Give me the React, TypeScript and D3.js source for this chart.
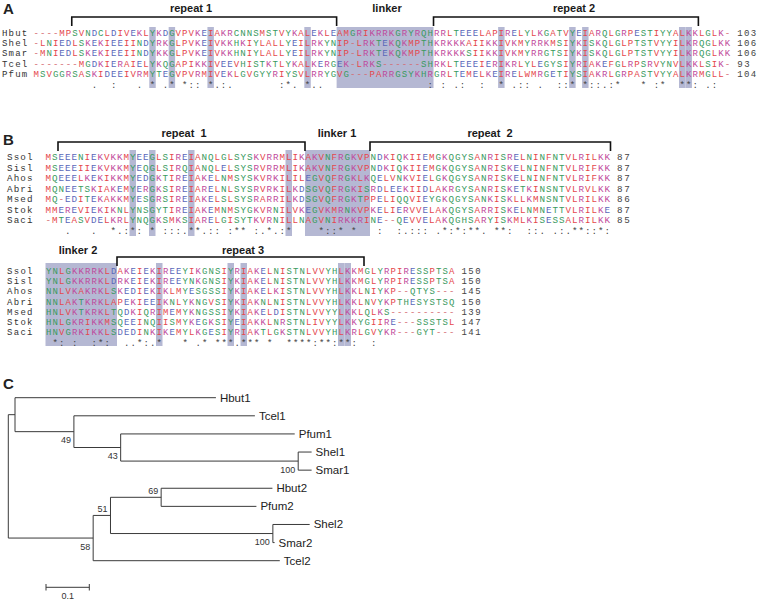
import React from 'react';
import * as d3 from 'd3';

// ---------- Panel A data ----------
const A_NAMES = ['Hbut', 'Shel', 'Smar', 'Tcel', 'Pfum'];
const A_SEQS = [
  '----MPSVNDCLDIVEKLYKDGVPVKEIAKRCNNSMSTVYKALEKLEAMGRIKRRKGRYRQHRRLTEEELAPIRELYLKGATVYEIARQLGRPESTIYYALKKLGLK-',
  '-LNIEDLSKEKIEEIINDYRKGLPVKEIVKKHKIYLALLYEILRKYNIP-LRKTEKQKMPTHKRKKKAIIKKIVKMYRRKMSIYKISKQLGLPTSTVYYILKRQGLKK',
  '-MNIEDLSKEKIEEIINDYKKGLPVKEIVKKHNIYLALLYEILRKYNIP-LRKTEKQKMPTHKRKKKSIIKKIVKMYRRGTSIYKISKQLGLPTSTVYYILKRQGLKK',
  '-------MGDKIERAIELYKQGAPIKKIVEEVHISTKTLYKALKERGEK-LRKS------SHRKLTEEEIERIKRLYLEGYSIYRIAKEFGLRPSRVYNVLKKLSIK-',
  'MSVGGRSASKIDEEIVRMYTEGVPVRMIVEKLGVGYYRIYSVLRRYGVG---PARRGSYKHRGRLTEMELKEIRELWMRGETIYSIAKRLGRPASTVYYALKRMGLL-',
];
const A_ENDS = ['103', '106', '106', '93', '104'];
const A_SHADE_COLS = [19, 22, 28, 43, 73, 84, 86, 101, 102];
const A_SHADE_RANGES: [number, number][] = [[48, 62]];
const A_BRACKETS: [number, number][] = [[7, 47], [63, 103]];
const A_TITLES = ['repeat 1', 'linker', 'repeat 2'];

// ---------- Panel B data ----------
const B_NAMES = ['Ssol', 'Sisl', 'Ahos', 'Abri', 'Msed', 'Stok', 'Saci'];
const B1_SEQS = [
  'MSEEENIEKVKKMYEEGLSIREIANQLGLSYSKVRRMLIKAKVNFRGKVPNDKIQKIIEMGKQGYSANRISRELNINFNTVLRILKK',
  'MSEEEIIEKVKKMYEQGLSIRQIANQLELSYSRVRRMLIKAKVNFRGKVPNDKIQKIIEMGKQGYSANRISKELNINFNTVLRIFKK',
  'MQEEELKEKIKKMYEDGKTIREIAKELNMSYSKVRKILILEGVQFRGKLKQELVNKVIELGKQGYSANRISKELNINFNTVLRIFKK',
  'MQNEETSKIAKEMYERGKSIREIARELNLSYSRVRKILKDSGVQFRGKISRDLEEKIIDLAKRGYSANRISKETKINSNTVLRVLKK',
  'MQ-EDITEKAKKMYESGRSIREIAKELSLSYSRARRILKDSGVQFRGKTPPELIQQVIEYGKQGYSANKISKLLKMNSNTVLRILKK',
  'MMEREVIEKIKNLYNSGYTIREIAKEMNMSYGKVRNILVKEGVKMRNKVPKELIERVVELAKQGYSARRISKELNMNETTVLRILKE',
  '-MTEASVDELKRLYNQGKSMKSIARELGISYTKVRNILLNAGVNIRKKRINE--QEVVELAKQGHSARYISKMLKISESSALRILKK',
];
const B1_ENDS = ['87', '87', '87', '87', '86', '87', '85'];
const B1_SHADE_COLS = [14, 17, 23, 38];
const B1_SHADE_RANGES: [number, number][] = [[41, 50]];
const B1_BRACKETS: [number, number][] = [[3, 40], [51, 87]];
const B1_TITLES = ['repeat  1', 'linker 1', 'repeat  2'];

const B2_SEQS = [
  'YNLGKKRRKLDAKEIEKIREEYIKGNSIYRIAKELNISTNLVVYHLKKMGLYRPIRESSPTSA',
  'YNLGKKRRKLDRKEIEKIREEYNKGNSIYKIAKELNISTNLVVYHLKKMGLYRPIRESSPTSA',
  'NNLVKAKRKLSKEDIEKIKLMYESGSSIYKIAKELKISTNLVVYHLKKLNIYKP--QTYS---',
  'NNLAKTKRKLAPEKIEEIKNLYKNGVSIYKIAKNLNISTNLVVYHLKKLNVYKPTHESYSTSQ',
  'HNLVKTKRKLTQDKIQRIMEMYKNGSSIYKIAKELDISTNLVVYYLKKLQLKS----------',
  'HNLGKRIKKMSQEEINQIISMYKEGKSIYEIAKKLNRSTNLIVYYLKKYGIIRE---SSSTSL',
  'HNVGRKIKKLSDEDINKIKEMYLKGESIYRIAKTLGKSTNLVVYHLKRLGVYKR---GYT---',
];
const B2_ENDS = ['150', '150', '145', '150', '139', '147', '141'];
const B2_SHADE_COLS = [18, 29, 31, 46, 47];
const B2_SHADE_RANGES: [number, number][] = [[1, 11]];
const B2_BRACKETS: [number, number][] = [[12, 49]];
const B2_TITLES = ['linker 2', 'repeat 3'];

// ---------- Panel C data (tree, Newick with bootstrap values) ----------
const TREE_NEWICK =
  '((Hbut1:0.464,(Tcel1:0.418,(Pfum1:0.402,(Shel1:0.031,Smar1:0.031)100:0.410)43:0.108)49:0.136):0.0155,(((Hbut2:0.257,Pfum2:0.220)69:0.117,(Shel2:0.085,Smar2:0.004)100:0.375)51:0.040,Tcel2:0.431)58:0.196);';
const SCALE_BAR = 0.1;

// ---------- styles ----------
const MONO = "'Liberation Mono', 'DejaVu Sans Mono', monospace";
const SANS = "'Liberation Sans', Arial, Helvetica, sans-serif";
const RED = '#e5474d';
const BLUE = '#5a68ba';
const MAGENTA = '#bf4b9c';
const GREEN = '#3a9a60';
const GAP = '#d56a70';
const SHADE = '#b5b8d3';

function residueColor(c: string) {
  if ('AVFPMILW'.includes(c)) return RED;
  if ('DE'.includes(c)) return BLUE;
  if ('RK'.includes(c)) return MAGENTA;
  if ('STYHCNGQ'.includes(c)) return GREEN;
  return GAP;
}

const STRONG = ['STA', 'NEQK', 'NHQK', 'NDEQ', 'QHRK', 'MILV', 'MILF', 'HY', 'FYW'];
const WEAK = ['CSA', 'ATV', 'SAG', 'STNK', 'STPA', 'SGND', 'SNDEQK', 'NDEQHK', 'NEQHRK', 'FVLIM', 'HFY'];
function conservation(seqs: string[]) {
  let out = '';
  for (let i = 0; i < seqs[0].length; i++) {
    const col = seqs.map((s) => s[i]);
    if (col.some((c) => c === '-')) out += ' ';
    else if (col.every((c) => c === col[0])) out += '*';
    else if (STRONG.some((g) => col.every((c) => g.includes(c)))) out += ':';
    else if (WEAK.some((g) => col.every((c) => g.includes(c)))) out += '.';
    else out += ' ';
  }
  return out;
}

type BlockCfg = {
  names: string[];
  seqs: string[];
  ends: string[];
  shadeCols: number[];
  shadeRanges: [number, number][];
  brackets: [number, number][];
  titles: string[];
  titleX: number[];
  x0: number;
  cw: number;
  y0: number;
  dy: number;
  labelX: number;
  shadeTop: number;
  shadeBottom: number;
  titleY: number;
  bracketY: number;
  bracketDrop: number;
};

function Block({ cfg }: { cfg: BlockCfg }) {
  const ncol = cfg.seqs[0].length;
  const x = d3.scaleLinear().domain([0, ncol]).range([cfg.x0, cfg.x0 + ncol * cfg.cw]);
  const y = (r: number) => cfg.y0 + r * cfg.dy;
  const cons = conservation(cfg.seqs);
  const fs = Math.min(10, (cfg.dy - 0.05) / 1.135);
  const base = fs * 0.36;
  return (
    <g>
      {cfg.shadeRanges.map(([a, b], i) => (
        <rect key={'r' + i} x={x(a - 1)} width={x(b) - x(a - 1)} y={cfg.shadeTop} height={cfg.shadeBottom - cfg.shadeTop} fill={SHADE} />
      ))}
      {cfg.shadeCols.map((c, i) => (
        <rect key={'c' + i} x={x(c - 1)} width={cfg.cw} y={cfg.shadeTop} height={cfg.shadeBottom - cfg.shadeTop} fill={SHADE} />
      ))}
      {cfg.brackets.map(([a, b], i) => (
        <path key={'b' + i} d={`M${x(a - 1)},${cfg.bracketY + cfg.bracketDrop}V${cfg.bracketY}H${x(b)}V${cfg.bracketY + cfg.bracketDrop}`} fill="none" stroke="#111" strokeWidth={1.6} />
      ))}
      {cfg.titles.map((t, i) => (
        <text key={'t' + i} x={cfg.titleX[i]} y={cfg.titleY} textAnchor="middle" fontFamily={SANS} fontWeight="bold" fontSize={11} fill="#1a1a1a" style={{ whiteSpace: 'pre' }}>
          {t}
        </text>
      ))}
      {cfg.names.map((n, r) => (
        <text key={'n' + r} x={cfg.labelX} y={y(r) + base} fontFamily={MONO} fontSize={fs} fill="#333" textLength={4 * cfg.cw * 0.98} lengthAdjust="spacing">
          {n}
        </text>
      ))}
      {cfg.seqs.map((s, r) =>
        s.split('').map((c, i) => (
          <text key={r + '-' + i} x={x(i + 0.5)} y={y(r) + base} textAnchor="middle" fontFamily={MONO} fontSize={fs} fill={residueColor(c)}>
            {c}
          </text>
        ))
      )}
      {cfg.ends.map((e, r) => (
        <text key={'e' + r} x={x(ncol + 1)} y={y(r) + base} fontFamily={MONO} fontSize={fs} fill="#444" textLength={e.length * cfg.cw * 0.98} lengthAdjust="spacing">
          {e}
        </text>
      ))}
      {cons.split('').map((c, i) =>
        c === ' ' ? null : (
          <text key={'k' + i} x={x(i + 0.5)} y={y(cfg.seqs.length) + base} textAnchor="middle" fontFamily={MONO} fontSize={fs} fill="#444">
            {c}
          </text>
        )
      )}
    </g>
  );
}

type TNode = { name: string; len: number; children: TNode[] };
function parseNewick(s: string): TNode {
  let i = 0;
  function node(): TNode {
    const n: TNode = { name: '', len: 0, children: [] };
    if (s[i] === '(') {
      i++;
      n.children.push(node());
      while (s[i] === ',') {
        i++;
        n.children.push(node());
      }
      i++;
    }
    let name = '';
    while (i < s.length && !':,();'.includes(s[i])) name += s[i++];
    n.name = name;
    if (s[i] === ':') {
      i++;
      let l = '';
      while (i < s.length && !',();'.includes(s[i])) l += s[i++];
      n.len = +l;
    }
    return n;
  }
  return node();
}

const BOOT_ABOVE = new Set(['51', '69']);

function Tree() {
  const root = d3.hierarchy(parseNewick(TREE_NEWICK), (d) => (d.children.length ? d.children : null));
  const dist = new Map<any, number>();
  root.eachBefore((n) => dist.set(n, (n.parent ? dist.get(n.parent)! : 0) + (n.parent ? n.data.len : 0)));
  const xs = d3.scaleLinear().domain([0, 0.1]).range([8.3, 8.3 + 43.3]);
  const leaves = root.leaves();
  const ys = d3.scalePoint<string>().domain(leaves.map((l) => l.data.name)).range([397.7, 560.7]);
  const yv = new Map<any, number>();
  root.eachAfter((n) => {
    if (!n.children) yv.set(n, ys(n.data.name)!);
    else yv.set(n, (yv.get(n.children[0])! + yv.get(n.children[n.children.length - 1])!) / 2);
  });
  const lines: any[] = [];
  const texts: any[] = [];
  root.each((n) => {
    const x = xs(dist.get(n)!);
    const y = yv.get(n)!;
    if (n.parent) {
      const px = xs(dist.get(n.parent)!);
      lines.push(<line key={'h' + lines.length} x1={px} x2={x} y1={y} y2={y} />);
    }
    if (n.children) {
      lines.push(<line key={'v' + lines.length} x1={x} x2={x} y1={yv.get(n.children[0])} y2={yv.get(n.children[n.children.length - 1])} />);
      if (n.data.name) {
        const above = BOOT_ABOVE.has(n.data.name);
        texts.push(
          <text key={'bs' + texts.length} x={x - 3} y={above ? y - 3.5 : y + 11.5} textAnchor="end" fontFamily={SANS} fontSize={9} fill="#333">
            {n.data.name}
          </text>
        );
      }
    } else {
      texts.push(
        <text key={'lf' + texts.length} x={x + 4} y={y + 4} fontFamily={SANS} fontSize={11.5} fill="#222">
          {n.data.name}
        </text>
      );
    }
  });
  const s0 = 46;
  const s1 = s0 + (xs(SCALE_BAR) - xs(0));
  return (
    <g>
      <g stroke="#3a3a3a" strokeWidth={1}>{lines}</g>
      {texts}
      <g stroke="#3a3a3a" strokeWidth={1}>
        <line x1={s0} x2={s1} y1={587.3} y2={587.3} />
        <line x1={s0} x2={s0} y1={584} y2={590.5} />
        <line x1={s1} x2={s1} y1={584} y2={590.5} />
      </g>
      <text x={(s0 + s1) / 2} y={598.5} textAnchor="middle" fontFamily={SANS} fontSize={9} fill="#333">
        {String(SCALE_BAR)}
      </text>
    </g>
  );
}

export default function App() {
  const A: BlockCfg = {
    names: A_NAMES, seqs: A_SEQS, ends: A_ENDS, shadeCols: A_SHADE_COLS, shadeRanges: A_SHADE_RANGES,
    brackets: A_BRACKETS, titles: A_TITLES, titleX: [191, 387, 574],
    x0: 33, cw: 6.46, y0: 32.5, dy: 10.35, labelX: 2, shadeTop: 27, shadeBottom: 88,
    titleY: 12, bracketY: 17, bracketDrop: 9,
  };
  const B1: BlockCfg = {
    names: B_NAMES, seqs: B1_SEQS, ends: B1_ENDS, shadeCols: B1_SHADE_COLS, shadeRanges: B1_SHADE_RANGES,
    brackets: B1_BRACKETS, titles: B1_TITLES, titleX: [184, 337, 490],
    x0: 45, cw: 6.5, y0: 156.8, dy: 10.55, labelX: 7, shadeTop: 150, shadeBottom: 236,
    titleY: 137, bracketY: 142, bracketDrop: 9,
  };
  const B2: BlockCfg = {
    names: B_NAMES, seqs: B2_SEQS, ends: B2_ENDS, shadeCols: B2_SHADE_COLS, shadeRanges: B2_SHADE_RANGES,
    brackets: B2_BRACKETS, titles: B2_TITLES, titleX: [78, 243],
    x0: 45.5, cw: 6.5, y0: 270.7, dy: 10.25, labelX: 7, shadeTop: 263, shadeBottom: 346,
    titleY: 254, bracketY: 257, bracketDrop: 9,
  };
  return (
    <svg width={759} height={599} style={{ position: 'absolute', left: 0, top: 0, background: '#fff' }}>
      <rect width={759} height={599} fill="#fff" />
      <text x={3} y={14} fontFamily={SANS} fontWeight="bold" fontSize={15} fill="#222">A</text>
      <text x={3} y={145} fontFamily={SANS} fontWeight="bold" fontSize={15} fill="#222">B</text>
      <text x={3} y={389} fontFamily={SANS} fontWeight="bold" fontSize={15} fill="#222">C</text>
      <Block cfg={A} />
      <Block cfg={B1} />
      <Block cfg={B2} />
      <Tree />
    </svg>
  );
}
